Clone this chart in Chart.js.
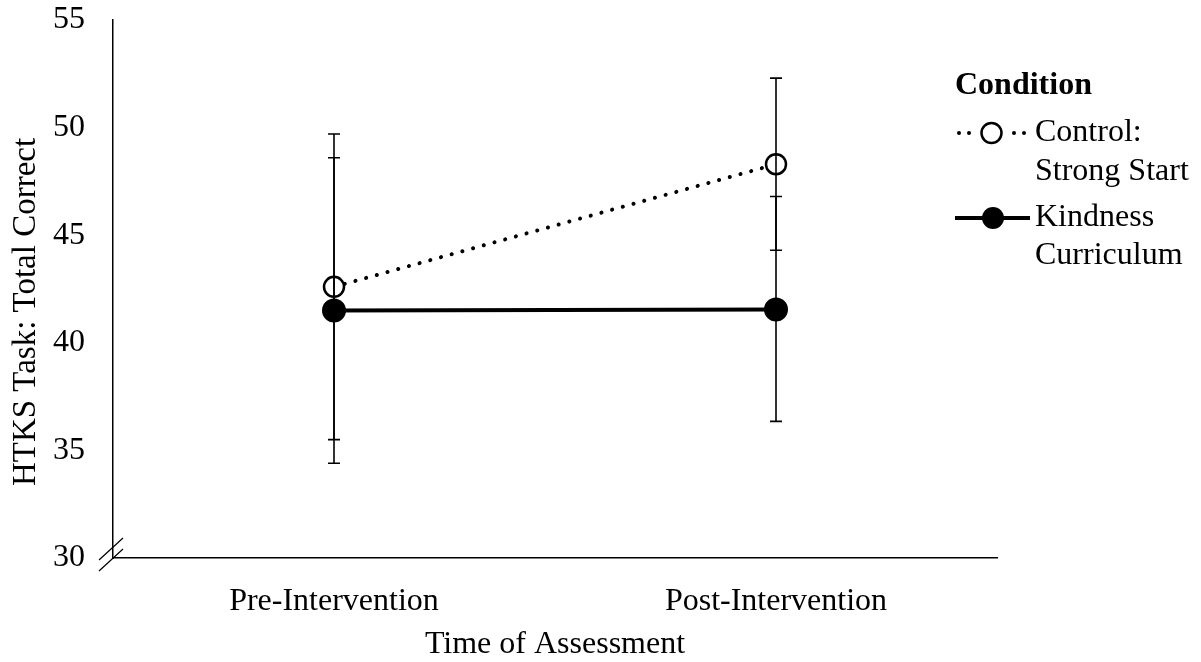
<!DOCTYPE html>
<html>
<head>
<meta charset="utf-8">
<style>
  html, body { margin: 0; padding: 0; background: #fff; }
  #wrap { width: 1201px; height: 662px; }
</style>
<script src="https://cdn.jsdelivr.net/npm/chart.js@4.4.1/dist/chart.umd.min.js"></script>
</head>
<body>
<div id="wrap"><canvas id="chart" width="1201" height="662"></canvas></div>
<script>
const categories = ['Pre-Intervention', 'Post-Intervention'];
const controlMeans = [42.6, 48.3];
const controlLow = [35.5, 44.3];
const controlHigh = [49.7, 52.3];
const kindnessMeans = [41.5, 41.55];
const kindnessLow = [34.4, 36.35];
const kindnessHigh = [48.6, 46.8];
const yTicks = [30, 35, 40, 45, 50, 55];

const FONT = "'Liberation Serif', 'Times New Roman', serif";
const FS = 32;

// error bars drawn through the chart scales
const errorBars = {
    id: 'errorBars',
    afterDatasetsDraw(chart) {
        const ctx = chart.ctx;
        const x = chart.scales.x, y = chart.scales.y;
        const sets = [[controlLow, controlHigh], [kindnessLow, kindnessHigh]];
        ctx.save();
        ctx.strokeStyle = '#000';
        ctx.lineWidth = 1.6;
        sets.forEach(([lo, hi]) => {
            categories.forEach((c, i) => {
                const px = x.getPixelForValue(i);
                const y1 = y.getPixelForValue(lo[i]);
                const y2 = y.getPixelForValue(hi[i]);
                ctx.beginPath();
                ctx.moveTo(px, y1); ctx.lineTo(px, y2);
                ctx.moveTo(px - 6, y1); ctx.lineTo(px + 6, y1);
                ctx.moveTo(px - 6, y2); ctx.lineTo(px + 6, y2);
                ctx.stroke();
            });
        });
        ctx.restore();
    }
};

// axis break marks, y title and legend
const extras = {
    id: 'extras',
    afterDraw(chart) {
        const ctx = chart.ctx;
        const a = chart.chartArea;
        ctx.save();
        // axis break
        ctx.strokeStyle = '#000';
        ctx.lineWidth = 1.2;
        ctx.beginPath();
        ctx.moveTo(a.left - 14, a.bottom + 2); ctx.lineTo(a.left + 10, a.bottom - 20);
        ctx.moveTo(a.left - 14, a.bottom + 13); ctx.lineTo(a.left + 10, a.bottom - 9);
        ctx.stroke();

        // y axis title, sits a bit below the middle like the original
        ctx.save();
        ctx.translate(26, 312);
        ctx.rotate(-Math.PI / 2);
        ctx.fillStyle = '#000';
        ctx.font = '33px ' + FONT;
        ctx.textAlign = 'center';
        ctx.textBaseline = 'middle';
        ctx.fillText('HTKS Task: Total Correct', 0, 0);
        ctx.restore();

        // legend
        const lx = 955;
        ctx.fillStyle = '#000';
        ctx.textBaseline = 'middle';
        ctx.textAlign = 'left';
        ctx.font = 'bold ' + FS + 'px ' + FONT;
        ctx.fillText('Condition', lx, 86);
        ctx.font = FS + 'px ' + FONT;

        // control symbol: two dots each side of an open circle
        let sy = 133;
        [lx + 4, lx + 14, lx + 59, lx + 69].forEach(dx => {
            ctx.beginPath(); ctx.arc(dx, sy, 2, 0, Math.PI * 2); ctx.fill();
        });
        ctx.strokeStyle = '#000';
        ctx.fillStyle = '#fff';
        ctx.lineWidth = 2.5;
        ctx.beginPath(); ctx.arc(lx + 36.5, sy, 10, 0, Math.PI * 2); ctx.fill(); ctx.stroke();
        ctx.fillStyle = '#000';
        ctx.fillText('Control:', lx + 80, sy);
        ctx.fillText('Strong Start', lx + 80, sy + 39);

        // kindness symbol
        sy = 218;
        ctx.lineWidth = 4;
        ctx.beginPath(); ctx.moveTo(lx, sy); ctx.lineTo(lx + 75, sy); ctx.stroke();
        ctx.beginPath(); ctx.arc(lx + 38, sy, 11, 0, Math.PI * 2); ctx.fill();
        ctx.fillText('Kindness', lx + 80, sy);
        ctx.fillText('Curriculum', lx + 80, sy + 38);
        ctx.restore();
    }
};

const ctx = document.getElementById('chart').getContext('2d');
new Chart(ctx, {
    type: 'line',
    data: {
        labels: categories,
        datasets: [
            {
                label: 'Control: Strong Start',
                data: controlMeans,
                borderColor: '#000',
                borderWidth: 4,
                borderDash: [0.1, 11],
                borderCapStyle: 'round',
                pointRadius: 10,
                pointBorderWidth: 2.5,
                pointBorderColor: '#000',
                pointBackgroundColor: '#fff',
                order: 2
            },
            {
                label: 'Kindness Curriculum',
                data: kindnessMeans,
                borderColor: '#000',
                borderWidth: 4,
                pointRadius: 12,
                pointBorderWidth: 0,
                pointBackgroundColor: '#000',
                order: 1
            }
        ]
    },
    options: {
        responsive: false,
        animation: false,
        layout: { padding: { top: 20, right: 204, left: 0, bottom: 0 } },
        plugins: {
            legend: { display: false },
            tooltip: { enabled: false }
        },
        scales: {
            x: {
                offset: true,
                grid: { display: false, drawTicks: false },
                border: { display: true, color: '#000', width: 1.5 },
                ticks: { color: '#000', font: { family: FONT, size: FS }, padding: 24 },
                title: { display: true, text: 'Time of Assessment', color: '#000', font: { family: FONT, size: FS }, padding: { top: 4, bottom: -2 } },
                afterFit(scale) { scale.height = 104; scale.paddingLeft = 0; scale.paddingRight = 0; }
            },
            y: {
                min: 30,
                max: 55,
                afterBuildTicks(scale) { scale.ticks = yTicks.map(v => ({ value: v })); },
                grid: { display: false, drawTicks: false },
                border: { display: true, color: '#000', width: 1.5 },
                ticks: { color: '#000', font: { family: FONT, size: FS }, padding: 28 },
                title: { display: false },
                afterFit(scale) { scale.width = 113; scale.paddingTop = 0; scale.paddingBottom = 0; }
            }
        }
    },
    plugins: [errorBars, extras]
});
</script>
</body>
</html>
